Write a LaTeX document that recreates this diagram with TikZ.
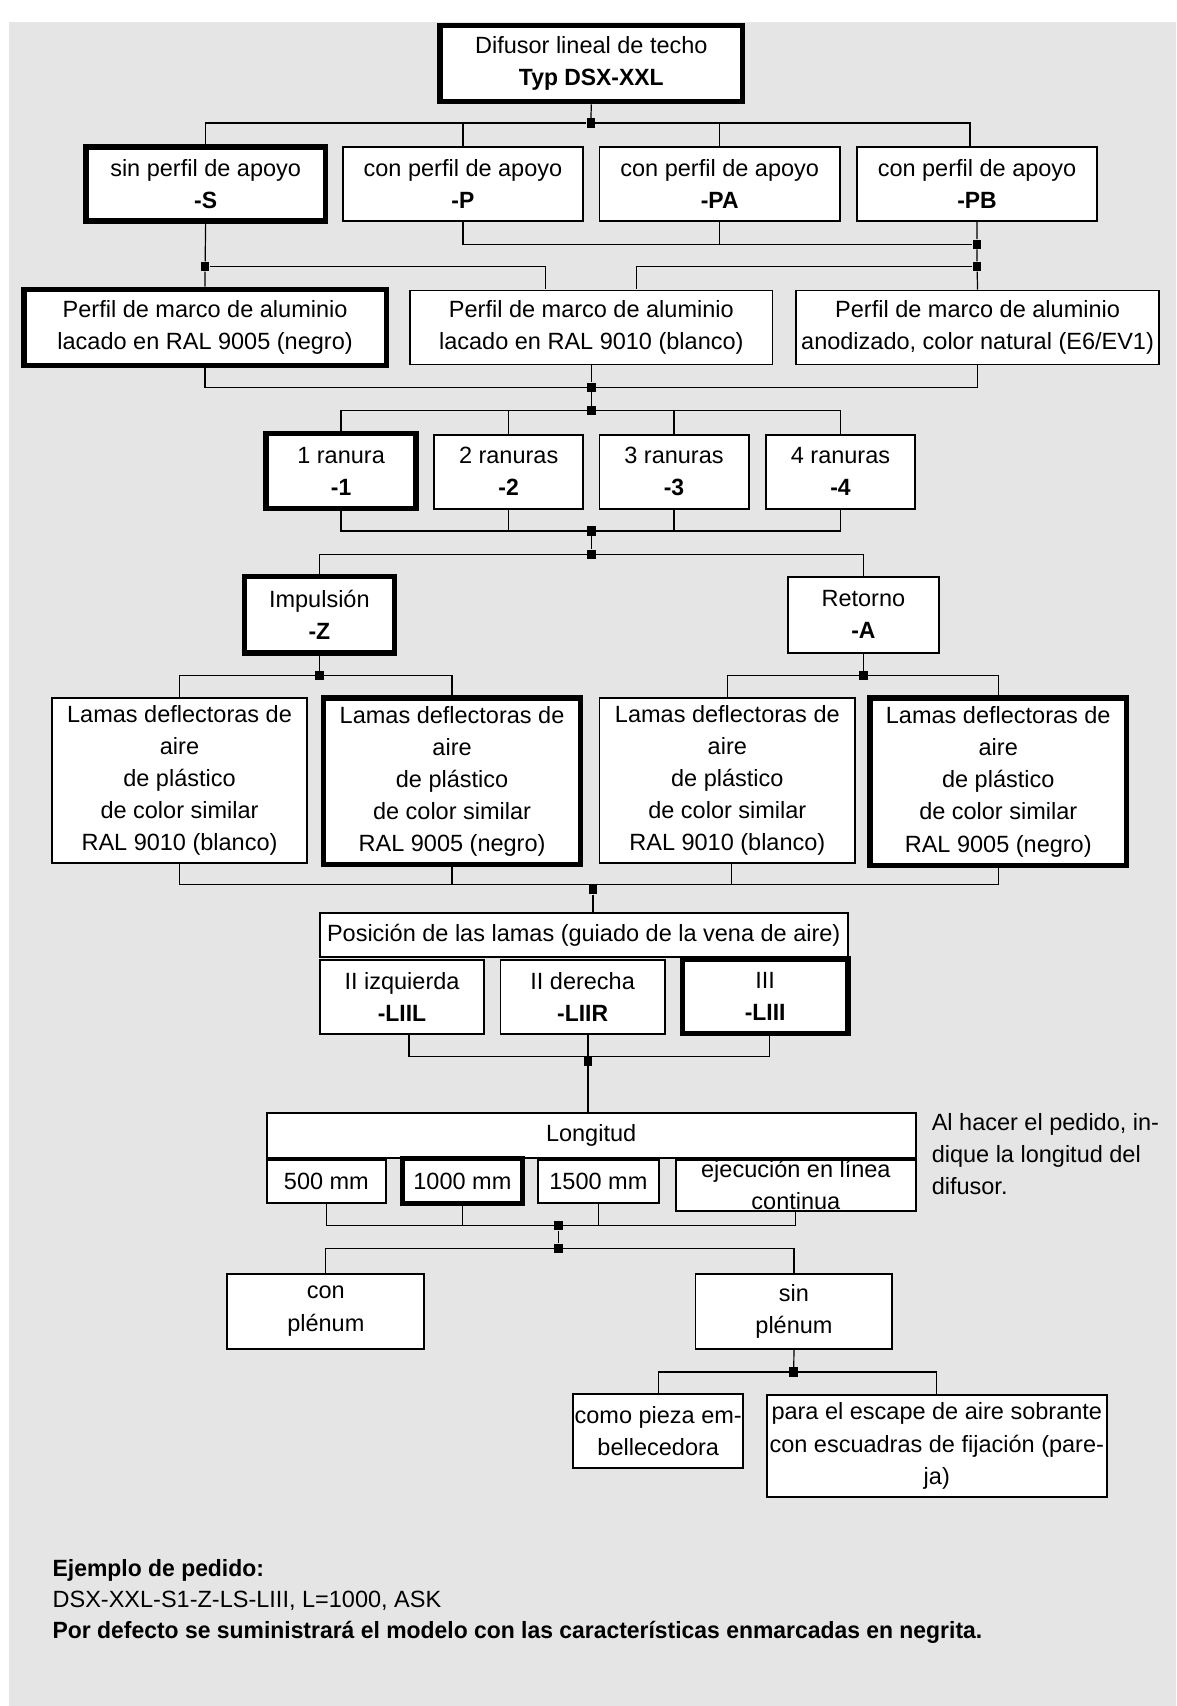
\documentclass[tikz,border=0pt]{standalone}
\usepackage{fontspec}
\setmainfont{Liberation Sans}[BoldFeatures={FakeStretch=0.975}]
\definecolor{bggray}{gray}{0.9}

\begin{document}
\begin{tikzpicture}[x=0.5pt,y=-0.5pt,
    every node/.style={font=\fontsize{10.8pt}{14.75pt}\selectfont},
    optbox/.style={draw, fill=white, line width=0.9pt, inner sep=0pt, align=center},
    defbox/.style={optbox, line width=2.5pt},
    joint/.style={fill=black, inner sep=0pt, minimum width=3.9pt, minimum height=4.3pt},
    bus/.style={line width=0.55pt}]
    \useasboundingbox (0,0) rectangle (1081,1568);
    \fill[bggray] (8,20) rectangle (1081,1568);

    \node[defbox, minimum width=139pt, minimum height=35pt] (typ) at (543.5,58.5) {Difusor lineal de techo\\\textbf{Typ DSX-XXL}};

    \node[defbox, minimum width=110pt, minimum height=34pt] (s) at (189,169) {sin perfil de apoyo\\\textbf{-S}};
    \foreach \n/\cx in {P/425.5,PA/661.5,PB/898} {
      \node[optbox, minimum width=110.5pt, minimum height=34pt] (\n) at (\cx,169) {con perfil de apoyo\\\textbf{-\n}};
    }

    \node[defbox, minimum width=166.5pt, minimum height=35pt] (negro) at (188.5,301) {Perfil de marco de aluminio\\lacado en RAL 9005 (negro)};
    \node[optbox, minimum width=166.5pt, minimum height=34pt] (blanco) at (543.5,301) {Perfil de marco de aluminio\\lacado en RAL 9010 (blanco)};
    \node[optbox, minimum width=166.5pt, minimum height=34pt] (anod) at (898.5,301) {Perfil de marco de aluminio\\anodizado, color natural (E6/EV1)};

    \node[defbox, minimum width=69pt, minimum height=34.5pt] (r1) at (313.5,433) {1 ranura\\\textbf{-1}};
    \foreach \k/\cx in {2/467.5,3/619.5,4/772.5} {
      \node[optbox, minimum width=68.5pt, minimum height=34pt] (r\k) at (\cx,433.5) {\k\ ranuras\\\textbf{-\k}};
    }

    \node[defbox, minimum width=69pt, minimum height=35pt] (imp) at (293.5,565) {Impulsión\\\textbf{-Z}};
    \node[optbox, minimum width=69.5pt, minimum height=34.75pt] (ret) at (793.5,565) {Retorno\\\textbf{-A}};

    \node[optbox, minimum width=117pt, minimum height=75.75pt] (l1) at (165,717) {Lamas deflectoras de\\aire\\de plástico\\de color similar\\RAL 9010 (blanco)};
    \node[defbox, minimum width=118pt, minimum height=76.5pt] (l2) at (415.5,718) {Lamas deflectoras de\\aire\\de plástico\\de color similar\\RAL 9005 (negro)};
    \node[optbox, minimum width=117.5pt, minimum height=75.75pt] (l3) at (668.5,717) {Lamas deflectoras de\\aire\\de plástico\\de color similar\\RAL 9010 (blanco)};
    \node[defbox, minimum width=118pt, minimum height=77pt] (l4) at (917.5,718.5) {Lamas deflectoras de\\aire\\de plástico\\de color similar\\RAL 9005 (negro)};

    \node[optbox, minimum width=242.5pt, minimum height=20pt] (pos) at (536.5,859.5) {Posición de las lamas (guiado de la vena de aire)};
    \node[optbox, minimum width=75.25pt, minimum height=34pt] (izq) at (369.5,916) {II izquierda\\\textbf{-LIIL}};
    \node[optbox, minimum width=75.5pt, minimum height=34pt] (der) at (535.5,916) {II derecha\\\textbf{-LIIR}};
    \node[defbox, minimum width=76.25pt, minimum height=34.25pt] (iii) at (703.3,915.7) {III\\\textbf{-LIII}};

    \node[optbox, minimum width=110pt, minimum height=23.5pt] (ejec) at (731.5,1089.5) {ejecución en línea\\continua};
    \node[optbox, minimum width=298.25pt, minimum height=20.5pt] (lon) at (543.3,1043.5) {Longitud};
    \node[optbox, minimum width=55pt, minimum height=20pt] (mm500) at (300,1086) {500 mm};
    \node[defbox, minimum width=55pt, minimum height=20.5pt] (mm1000) at (425,1085.5) {1000 mm};
    \node[optbox, minimum width=55.5pt, minimum height=20pt] (mm1500) at (550,1086) {1500 mm};
    \node[anchor=west, align=left, inner sep=0pt] (nota) at (856,1061) {Al hacer el pedido, in-\\dique la longitud del\\difusor.};

    \node[optbox, minimum width=90.5pt, minimum height=34.5pt] (con) at (299.5,1205) {con\\plénum};
    \node[optbox, minimum width=90.5pt, minimum height=34.5pt] (sin) at (729.75,1205) {sin\\plénum};

    \node[optbox, minimum width=78pt, minimum height=34pt] (como) at (605,1315) {como pieza em-\\bellecedora};
    \node[optbox, minimum width=156pt, minimum height=47pt] (para) at (861,1329) {para el escape de aire sobrante\\con escuadras de fijación (pare-\\ja)};

    \foreach \n/\cx/\cy in {j1/543/113, j2/898/224.5, j3/898/245, j4/188.5/245, j5/543.5/356, j6/543.5/377.5,
                           j7/543.5/488, j8/543.5/509.5, j9/293.5/621, j10/793.5/621, j11/545/817.5,
                           j12/540.5/975.5, j13/513.5/1126.5, j14/513.5/1147.5, j15/729.5/1261} {
      \node[joint] (\n) at (\cx,\cy) {};
    }
    \coordinate (pbtop) at (891.5,134);
    \coordinate (bl1) at (501,266);
    \coordinate (bl2) at (585,266);

    \draw[bus] (typ.south) -- (j1);
    \draw[bus] (s.north) |- (j1) -| (pbtop);
    \foreach \n in {P,PA} \draw[bus] (\n.north) -- (\n.north |- j1);
    \draw[bus] (P.south) |- (j2);
    \draw[bus] (PA.south) -- (PA.south |- j2);
    \draw[bus] (PB.south) -- (j2) -- (j3) -- (anod.north);
    \draw[bus] (s.south) -- (j4) -- (negro.north);
    \draw[bus] (j4) -| (bl1);
    \draw[bus] (j3) -| (bl2);

    \draw[bus] (negro.south) |- (j5) -| (anod.south);
    \draw[bus] (blanco.south) -- (j5) -- (j6);
    \draw[bus] (r1.north) |- (j6) -| (r4.north);
    \foreach \k in {2,3} \draw[bus] (r\k.north) -- (r\k.north |- j6);

    \draw[bus] (r1.south) |- (j7) -| (r4.south);
    \foreach \k in {2,3} \draw[bus] (r\k.south) -- (r\k.south |- j7);
    \draw[bus] (j7) -- (j8);
    \draw[bus] (imp.north) |- (j8) -| (ret.north);

    \draw[bus] (imp.south) -- (j9);
    \draw[bus] (l1.north) |- (j9) -| (l2.north);
    \draw[bus] (ret.south) -- (j10);
    \draw[bus] (l3.north) |- (j10) -| (l4.north);

    \draw[bus] (l1.south) |- (j11.north) -| (l4.south);
    \draw[bus] (l2.south) -- (l2.south |- j11.north);
    \draw[bus] ([xshift=1.75pt]l3.south) -- ([xshift=1.75pt]l3.south |- j11.north);
    \draw[bus] (j11) -- (j11 |- pos.north);

    \draw[bus] ([xshift=3.25pt]izq.south) |- (j12.north) -| ([xshift=2pt]iii.south);
    \draw[bus] ([xshift=2.5pt]der.south) -- (j12);
    \draw[bus] (j12) -- (j12 |- lon.north);

    \draw[bus] (mm500.south) |- (j13) -| (ejec.south);
    \foreach \n in {mm1000,mm1500} \draw[bus] (\n.south) -- (\n.south |- j13);
    \draw[bus] (j13) -- (j14);
    \draw[bus] (con.north) |- (j14) -| (sin.north);

    \draw[bus] (sin.south) -- (j15);
    \draw[bus] (como.north) |- (j15) -| (para.north);

    \node[anchor=base west, inner sep=0pt] (ej) at (48,1449) {\textbf{Ejemplo de pedido:}};
    \node[anchor=base west, inner sep=0pt] (code) at (48,1477) {DSX-XXL-S1-Z-LS-LIII, L=1000, ASK};
    \node[anchor=base west, inner sep=0pt] (dflt) at (48,1506) {\textbf{Por defecto se suministrará el modelo con las características enmarcadas en negrita.}};
\end{tikzpicture}
\end{document}
